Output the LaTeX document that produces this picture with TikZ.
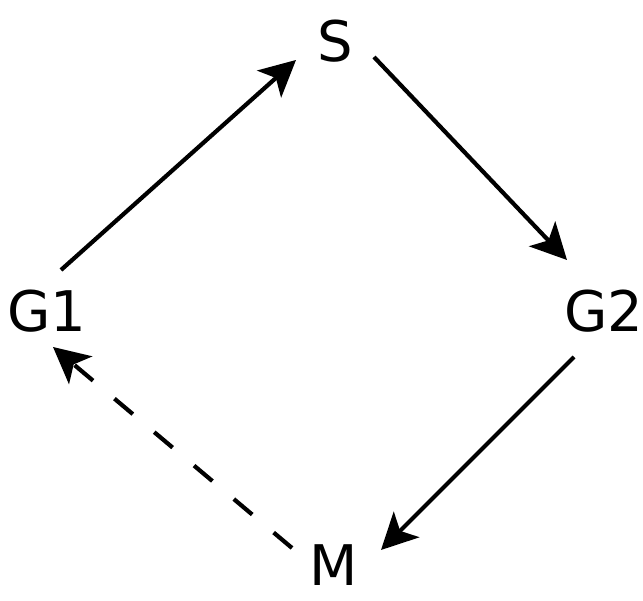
\documentclass[tikz,border=0pt]{standalone}
\usepackage{fontspec}
\setmainfont{DejaVu Sans}
\usetikzlibrary{arrows.meta,calc}
\begin{document}
\begin{tikzpicture}[x=1pt,y=1pt,
  lbl/.style={inner sep=0pt,font=\fontsize{56}{60}\selectfont},
  conn/.style={line width=4.2pt,-{Stealth[length=36pt,width=36pt,inset=9pt]}},
  dashconn/.style={conn,dash pattern=on 24pt off 28pt}]
\useasboundingbox (0,0) rectangle (643,601);
\node[lbl] (S) at (335,560) {S};
\node[lbl] (G1) at (47,290) {G1};
\node[lbl] (G2) at (604,290) {G2};
\node[lbl] (M) at (334,36) {M};
\draw[conn] ($(G1.center)+(14,41)$) -- ($(S.center)+(-39,-19)$);
\draw[conn] ($(S.center)+(39,-16)$) -- ($(G2.center)+(-37,51)$);
\draw[conn] ($(G2.center)+(-30,-46)$) -- ($(M.center)+(47,15)$);
\draw[dashconn] ($(M.center)+(-42,17)$) -- ($(G1.center)+(6,-36)$);
\end{tikzpicture}
\end{document}
